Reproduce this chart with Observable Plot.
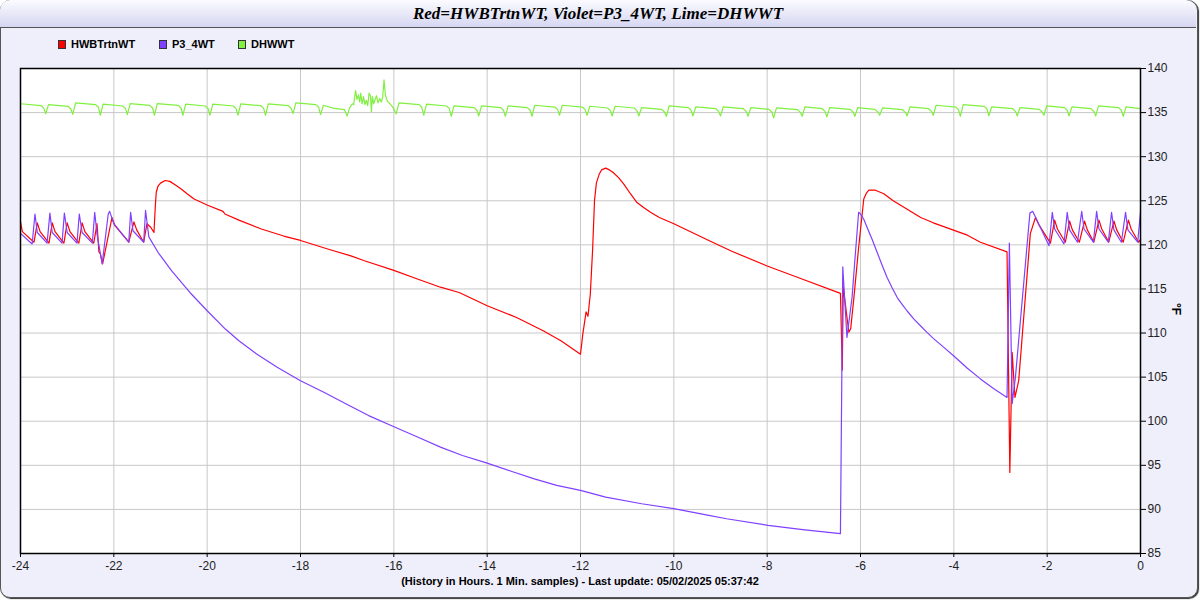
<!DOCTYPE html>
<html>
<head>
<meta charset="utf-8">
<script src="https://cdn.jsdelivr.net/npm/d3@7"></script>
<script src="https://cdn.jsdelivr.net/npm/@observablehq/plot@0.6"></script>
<style>
  html, body { margin: 0; padding: 0; background: #ffffff; }
  #wrap { position: relative; width: 1200px; height: 600px; overflow: hidden; font-family: "Liberation Sans", Arial, sans-serif; }
  #frame { position: absolute; left: 0; top: 0; width: 1196px; height: 596px; border: 1px solid #555; border-radius: 10px; background: #efeffc; box-shadow: 1px 1px 1px #333; }
  #titlebar { position: absolute; left: 0; top: 0; width: 1196px; height: 27px; border-bottom: 1px solid #555; border-radius: 10px 10px 0 0; background: linear-gradient(#fbfbff, #d6d6f2); text-align: center; font-family: "Liberation Serif", "Times New Roman", serif; font-weight: bold; font-style: italic; font-size: 17px; line-height: 27px; color: #000; }
  .leg { position: absolute; top: 38px; font-size: 11px; font-weight: bold; color: #000; line-height: 12px; white-space: nowrap; }
  .sw { display: inline-block; width: 6px; height: 7px; border: 1px solid #333; margin-right: 5px; vertical-align: -1px; }
  #chart { position: absolute; left: 0; top: 58px; }
  #ylab { position: absolute; left: 1170px; top: 302px; font-size: 12px; font-weight: bold; transform: rotate(90deg); transform-origin: center; color: #000; }
  #caption { position: absolute; left: 0; top: 575px; width: 1160px; text-align: center; font-size: 11px; font-weight: bold; color: #000; }
</style>
</head>
<body>
<div id="wrap">
  <div id="frame"></div>
  <div id="titlebar"></div>
  <div id="legend"></div>
  <div id="chart"></div>
  <div id="ylab"></div>
  <div id="caption"></div>
</div>
<script>
const titleText = "Red=HWBTrtnWT, Violet=P3_4WT, Lime=DHWWT";
const captionText = "(History in Hours. 1 Min. samples) - Last update: 05/02/2025 05:37:42";
const unitLabel = "°F";
const seriesNames = ["HWBTrtnWT", "P3_4WT", "DHWWT"];
const seriesColors = ["#ff0000", "#8040ff", "#80f040"];
const hourTicks = [-24, -22, -20, -18, -16, -14, -12, -10, -8, -6, -4, -2, 0];
const tempTicks = [85, 90, 95, 100, 105, 110, 115, 120, 125, 130, 135, 140];

// HWBTrtnWT (red) [hour, °F]
const hwbtrtnwt = [
  [-24, 122.6], [-23.96, 121.5], [-23.71, 120.3], [-23.64, 122.5], [-23.58, 121.5], [-23.39, 120.2],
  [-23.32, 122.5], [-23.26, 121.5], [-23.07, 120.2], [-23.0, 122.5], [-22.94, 121.5], [-22.75, 120.2],
  [-22.68, 122.5], [-22.62, 121.5], [-22.43, 120.2], [-22.36, 122.4], [-22.32, 119.2], [-22.29, 119.0],
  [-22.24, 117.85], [-22.04, 123.1], [-21.98, 122.2], [-21.68, 120.3], [-21.57, 122.6], [-21.51, 121.7],
  [-21.36, 120.3], [-21.29, 122.4], [-21.21, 122.0], [-21.14, 121.4], [-21.11, 124.5], [-21.09, 126.0],
  [-21.05, 126.7], [-21.0, 127.0], [-20.9, 127.3], [-20.8, 127.2], [-20.68, 126.8], [-20.57, 126.4],
  [-20.43, 125.8], [-20.28, 125.2], [-19.99, 124.5], [-19.66, 123.8], [-19.62, 123.5], [-19.32, 122.8],
  [-18.84, 121.8], [-18.36, 121.0], [-18.0, 120.5], [-17.4, 119.5], [-16.92, 118.75], [-16.63, 118.2],
  [-16.0, 117.1], [-15.48, 116.1], [-15.0, 115.2], [-14.6, 114.6], [-14.0, 113.1], [-13.37, 111.77],
  [-12.8, 110.26], [-12.42, 109.13], [-12.0, 107.6], [-11.95, 109.9], [-11.88, 112.4], [-11.84, 111.9],
  [-11.79, 114.4], [-11.74, 119.5], [-11.7, 125.0], [-11.66, 127.0], [-11.6, 128.0], [-11.55, 128.5],
  [-11.46, 128.7], [-11.38, 128.5], [-11.3, 128.2], [-11.18, 127.6], [-11.06, 126.8], [-10.93, 125.8],
  [-10.79, 124.8], [-10.64, 124.2], [-10.5, 123.7], [-10.31, 123.1], [-10.0, 122.4], [-9.25, 120.5],
  [-8.77, 119.3], [-8.0, 117.6], [-7.34, 116.3], [-6.43, 114.5], [-6.39, 105.8], [-6.37, 115.2],
  [-6.25, 110.1], [-6.21, 110.5], [-6.14, 114.1], [-6.04, 119.7], [-5.93, 125.2], [-5.87, 125.9],
  [-5.82, 126.2], [-5.68, 126.2], [-5.5, 125.8], [-5.3, 125.0], [-5.14, 124.5], [-4.71, 123.1],
  [-4.44, 122.5], [-3.71, 121.1], [-3.43, 120.3], [-2.86, 119.2],
  [-2.80, 94.2], [-2.75, 107.8], [-2.69, 102.7], [-2.61, 104.6], [-2.36, 121.3], [-2.25, 123.1],
  [-2.18, 122.3], [-1.93, 120.2], [-1.84, 122.8], [-1.78, 121.8], [-1.61, 120.3], [-1.52, 122.7],
  [-1.46, 121.7], [-1.31, 120.3], [-1.20, 122.7], [-1.14, 121.7], [-1.0, 120.3], [-0.89, 122.8],
  [-0.83, 121.8], [-0.68, 120.3], [-0.57, 122.7], [-0.51, 121.7], [-0.37, 120.3], [-0.26, 122.8],
  [-0.20, 121.8], [-0.04, 120.3], [0, 120.6]
];

// P3_4WT (violet) [hour, °F]
const p3_4wt = [
  [-24, 121.3], [-23.75, 120.1], [-23.69, 123.5], [-23.64, 121.4], [-23.43, 120.2], [-23.37, 123.6],
  [-23.32, 121.4], [-23.11, 120.2], [-23.06, 123.6], [-23.0, 121.4], [-22.79, 120.2], [-22.74, 123.5],
  [-22.68, 121.4], [-22.46, 120.2], [-22.41, 123.7], [-22.36, 121.2], [-22.25, 117.85], [-22.12, 123.5],
  [-22.09, 123.8], [-22.0, 122.4], [-21.68, 120.3], [-21.64, 123.7], [-21.59, 121.6], [-21.36, 120.3],
  [-21.32, 123.9], [-21.25, 120.9], [-21.05, 119.13], [-20.76, 117.06], [-20.37, 114.6], [-20.0, 112.53],
  [-19.61, 110.45], [-19.32, 109.13], [-18.94, 107.62], [-18.5, 106.11], [-18.0, 104.6], [-17.5, 103.28],
  [-17.02, 101.96], [-16.54, 100.64], [-16.01, 99.4], [-15.48, 98.19], [-15.0, 97.06], [-14.53, 96.11],
  [-14.0, 95.25], [-13.47, 94.3], [-12.99, 93.47], [-12.51, 92.72], [-12.0, 92.15], [-11.46, 91.4],
  [-10.69, 90.64], [-10.0, 90.08], [-9.25, 89.32], [-8.87, 88.94], [-7.98, 88.19], [-7.24, 87.7],
  [-6.43, 87.25], [-6.38, 117.5], [-6.29, 109.5], [-6.18, 114.1], [-6.11, 119.0], [-6.04, 123.7],
  [-6.0, 123.5], [-5.93, 122.9], [-5.86, 122.0], [-5.75, 120.6], [-5.64, 119.1], [-5.53, 117.6],
  [-5.43, 116.3], [-5.32, 115.1], [-5.21, 114.0], [-5.1, 113.2], [-5.0, 112.5], [-4.86, 111.6],
  [-4.71, 110.8], [-4.58, 110.1], [-4.44, 109.4], [-4.22, 108.4], [-4.0, 107.4], [-3.71, 106.0],
  [-3.43, 104.8], [-3.15, 103.7], [-2.86, 102.7], [-2.81, 120.2], [-2.75, 102.0], [-2.68, 105.0],
  [-2.37, 123.6], [-2.31, 123.8], [-1.96, 119.9], [-1.89, 123.7], [-1.84, 121.8], [-1.64, 120.1],
  [-1.57, 123.7], [-1.52, 121.7], [-1.35, 120.3], [-1.26, 123.8], [-1.21, 121.8], [-1.01, 120.3],
  [-0.94, 123.8], [-0.89, 121.8], [-0.69, 120.3], [-0.62, 123.7], [-0.57, 121.7], [-0.41, 120.3],
  [-0.32, 123.7], [-0.27, 121.7], [-0.06, 120.3], [0, 123.7]
];

// DHWWT (lime) [hour, °F]
const dhwwt = [
  [-24, 136.0], [-23.56, 135.8], [-23.50, 135.5],
  [-23.46, 134.85], [-23.40, 135.91], [-22.98, 135.71], [-22.92, 135.41],
  [-22.88, 134.8], [-22.82, 136.10], [-22.39, 135.90], [-22.33, 135.60],
  [-22.29, 134.7], [-22.23, 135.95], [-21.81, 135.75], [-21.75, 135.45],
  [-21.71, 134.77], [-21.65, 136.02], [-21.23, 135.82], [-21.17, 135.52],
  [-21.13, 134.7], [-21.07, 136.02], [-20.62, 135.82], [-20.56, 135.52],
  [-20.52, 134.7], [-20.46, 135.95], [-20.04, 135.75], [-19.98, 135.45],
  [-19.94, 134.7], [-19.88, 135.95], [-19.44, 135.75], [-19.38, 135.45],
  [-19.34, 134.7], [-19.28, 135.98], [-18.85, 135.78], [-18.79, 135.48],
  [-18.75, 134.7], [-18.69, 135.98], [-18.26, 135.78], [-18.20, 135.48],
  [-18.16, 134.89], [-18.10, 136.10], [-17.67, 135.90], [-17.61, 135.60],
  [-17.57, 134.77], [-17.51, 135.83], [-17.3, 135.5], [-17.06, 135.34],
  [-17.0, 134.6], [-16.95, 135.5], [-16.89, 136.0], [-16.86, 135.9], [-16.82, 137.5], [-16.79, 136.5],
  [-16.76, 137.0], [-16.73, 136.2], [-16.71, 137.2], [-16.68, 136.0], [-16.65, 136.8], [-16.62, 135.9],
  [-16.59, 136.4], [-16.56, 135.8], [-16.53, 137.2], [-16.50, 136.9], [-16.48, 135.1], [-16.46, 136.8],
  [-16.43, 136.0], [-16.40, 136.5], [-16.37, 136.9], [-16.34, 136.1], [-16.30, 136.6], [-16.27, 136.2],
  [-16.24, 136.7], [-16.21, 138.7], [-16.18, 137.0], [-16.14, 136.3], [-16.08, 136.0], [-16.02, 135.6],
  [-15.95, 134.85], [-15.89, 136.10], [-15.46, 135.90], [-15.40, 135.60],
  [-15.36, 134.7], [-15.30, 135.95], [-14.87, 135.75], [-14.81, 135.45],
  [-14.77, 134.58], [-14.71, 135.76], [-14.28, 135.56], [-14.22, 135.26],
  [-14.18, 134.62], [-14.12, 135.76], [-13.71, 135.56], [-13.65, 135.26],
  [-13.61, 134.58], [-13.55, 135.76], [-13.14, 135.56], [-13.08, 135.26],
  [-13.04, 134.58], [-12.98, 135.83], [-12.55, 135.63], [-12.49, 135.33],
  [-12.45, 134.7], [-12.39, 135.83], [-11.96, 135.63], [-11.90, 135.33],
  [-11.86, 134.7], [-11.80, 135.72], [-11.42, 135.52], [-11.36, 135.22],
  [-11.32, 134.62], [-11.26, 135.72], [-10.85, 135.52], [-10.79, 135.22],
  [-10.75, 134.62], [-10.69, 135.57], [-10.26, 135.37], [-10.20, 135.07],
  [-10.16, 134.58], [-10.10, 135.76], [-9.69, 135.56], [-9.63, 135.26],
  [-9.59, 134.62], [-9.53, 135.64], [-9.10, 135.44], [-9.04, 135.14],
  [-9.0, 134.62], [-8.94, 135.64], [-8.51, 135.44], [-8.45, 135.14],
  [-8.41, 134.58], [-8.35, 135.57], [-7.96, 135.37], [-7.90, 135.07],
  [-7.86, 134.4], [-7.80, 135.53], [-7.35, 135.33], [-7.29, 135.03],
  [-7.25, 134.58], [-7.19, 135.64], [-6.82, 135.44], [-6.76, 135.14],
  [-6.72, 134.51], [-6.66, 135.57], [-6.22, 135.37], [-6.16, 135.07],
  [-6.12, 134.58], [-6.06, 135.57], [-5.69, 135.37], [-5.63, 135.07],
  [-5.59, 134.7], [-5.53, 135.53], [-5.10, 135.33], [-5.04, 135.03],
  [-5.0, 134.62], [-4.94, 135.64], [-4.54, 135.44], [-4.48, 135.14],
  [-4.44, 134.7], [-4.38, 135.83], [-3.96, 135.63], [-3.90, 135.33],
  [-3.86, 134.58], [-3.80, 135.91], [-3.35, 135.71], [-3.29, 135.41],
  [-3.25, 134.62], [-3.19, 135.64], [-2.74, 135.44], [-2.68, 135.14],
  [-2.64, 134.62], [-2.58, 135.57], [-2.17, 135.37], [-2.11, 135.07],
  [-2.07, 134.7], [-2.01, 135.76], [-1.63, 135.56], [-1.57, 135.26],
  [-1.53, 134.62], [-1.47, 135.64], [-1.06, 135.44], [-1.00, 135.14],
  [-0.96, 134.62], [-0.90, 135.76], [-0.47, 135.56], [-0.41, 135.26],
  [-0.37, 134.58], [-0.31, 135.64], [0, 135.45]
];

const seriesData = [hwbtrtnwt, p3_4wt, dhwwt];
const rows = [];
seriesData.forEach((arr, i) => arr.forEach(([hour, temp]) => rows.push({series: seriesNames[i], hour, temp})));

document.getElementById("titlebar").textContent = titleText;
document.getElementById("caption").textContent = captionText;
document.getElementById("ylab").textContent = unitLabel;

const legendLeft = [58, 159, 238];
const legend = document.getElementById("legend");
seriesNames.forEach((name, i) => {
  const d = document.createElement("div");
  d.className = "leg";
  d.style.left = legendLeft[i] + "px";
  const sw = document.createElement("span");
  sw.className = "sw";
  sw.style.background = seriesColors[i];
  d.appendChild(sw);
  d.appendChild(document.createTextNode(name));
  legend.appendChild(d);
});

const chart = Plot.plot({
  width: 1200,
  height: 520,
  marginLeft: 20,
  marginRight: 60,
  marginTop: 10,
  marginBottom: 25,
  style: {background: "transparent", fontFamily: "Liberation Sans, Arial, sans-serif", fontSize: "12px", color: "#222", overflow: "visible"},
  x: {domain: [-24, 0]},
  y: {domain: [85, 140]},
  color: {domain: seriesNames, range: seriesColors},
  marks: [
    Plot.frame({fill: "#ffffff", stroke: null}),
    Plot.gridX(hourTicks, {stroke: "#c8c8c8", strokeOpacity: 1, strokeWidth: 1}),
    Plot.gridY(tempTicks, {stroke: "#c8c8c8", strokeOpacity: 1, strokeWidth: 1}),
    Plot.line(rows, {x: "hour", y: "temp", z: "series", stroke: "series", strokeWidth: 1.2}),
    Plot.frame({stroke: "#000", strokeWidth: 1.5}),
    Plot.axisX(hourTicks, {tickSize: 4, tickPadding: 4, fontSize: 12, tickFormat: d => String(d), label: null, stroke: "#000"}),
    Plot.axisY(tempTicks, {anchor: "right", tickSize: 5, tickPadding: 2, fontSize: 12, tickFormat: d => String(d), label: null, stroke: "#000"})
  ]
});
document.getElementById("chart").appendChild(chart);
</script>
</body>
</html>
